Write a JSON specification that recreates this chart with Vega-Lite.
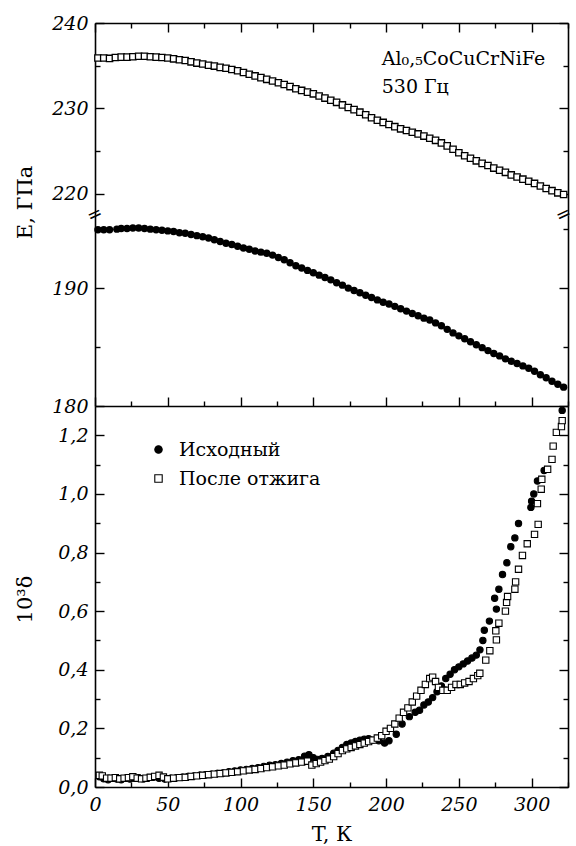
{
  "$schema": "https://vega.github.io/schema/vega-lite/v6.json",
  "padding": {"left": 14, "top": 14, "right": 4, "bottom": 4},
  "spacing": 0,
  "bounds": "flush",
  "config": {
    "view": {"stroke": null},
    "axis": {
      "grid": false,
      "domainColor": "black", "domainWidth": 1.6,
      "tickColor": "black", "tickWidth": 1.4,
      "labelFont": "DejaVu Serif", "labelFontStyle": "italic", "labelFontSize": 19, "labelColor": "black",
      "titleFont": "DejaVu Serif", "titleFontSize": 21, "titleFontWeight": "normal", "titleColor": "black",
      "labelFlush": false
    },
    "legend": {
      "labelFont": "DejaVu Serif", "labelFontSize": 19, "labelColor": "black",
      "symbolSize": 55, "labelOffset": 11, "rowPadding": 9, "padding": 0,
      "symbolStrokeColor": "black", "symbolStrokeWidth": 1.1
    },
    "text": {"font": "DejaVu Serif", "fontSize": 19, "color": "black"}
  },
  "datasets": {
    "Eann": [
      {"T":2,"E":235.9},{"T":6,"E":235.9},{"T":10,"E":235.85},{"T":14,"E":235.95},{"T":18,"E":236.0},{"T":22,"E":236.0},{"T":26,"E":236.05},{"T":30,"E":236.1},{"T":34,"E":236.1},{"T":38,"E":236.05},{"T":42,"E":236.0},{"T":46,"E":235.95},{"T":50,"E":235.9},{"T":54,"E":235.8},{"T":58,"E":235.7},{"T":62,"E":235.6},{"T":66,"E":235.45},{"T":70,"E":235.3},{"T":74,"E":235.2},{"T":78,"E":235.05},{"T":82,"E":234.95},{"T":86,"E":234.8},{"T":90,"E":234.7},{"T":94,"E":234.55},{"T":98,"E":234.4},{"T":102,"E":234.2},{"T":106,"E":234.0},{"T":110,"E":233.8},{"T":114,"E":233.6},{"T":118,"E":233.4},{"T":122,"E":233.2},{"T":126,"E":233.0},{"T":130,"E":232.8},{"T":134,"E":232.55},{"T":138,"E":232.3},{"T":142,"E":232.1},{"T":146,"E":231.9},{"T":150,"E":231.7},{"T":154,"E":231.45},{"T":158,"E":231.2},{"T":162,"E":230.95},{"T":166,"E":230.7},{"T":170,"E":230.4},{"T":174,"E":230.1},{"T":178,"E":229.85},{"T":182,"E":229.55},{"T":186,"E":229.25},{"T":190,"E":228.9},{"T":194,"E":228.6},{"T":198,"E":228.35},{"T":202,"E":228.1},{"T":206,"E":227.85},{"T":210,"E":227.6},{"T":214,"E":227.4},{"T":218,"E":227.2},{"T":222,"E":227.0},{"T":226,"E":226.75},{"T":230,"E":226.5},{"T":234,"E":226.25},{"T":238,"E":225.95},{"T":242,"E":225.6},{"T":246,"E":225.2},{"T":250,"E":224.8},{"T":254,"E":224.45},{"T":258,"E":224.15},{"T":262,"E":223.85},{"T":266,"E":223.55},{"T":270,"E":223.3},{"T":274,"E":223.0},{"T":278,"E":222.75},{"T":282,"E":222.5},{"T":286,"E":222.2},{"T":290,"E":221.95},{"T":294,"E":221.7},{"T":298,"E":221.45},{"T":302,"E":221.2},{"T":306,"E":220.9},{"T":310,"E":220.6},{"T":314,"E":220.35},{"T":318,"E":220.1},{"T":322,"E":219.9}
    ],
    "Eini": [
      {"T":2,"E":194.95},{"T":6,"E":194.95},{"T":10,"E":194.95},{"T":15,"E":195.0},{"T":18,"E":195.05},{"T":22,"E":195.05},{"T":26,"E":195.1},{"T":30,"E":195.1},{"T":34,"E":195.05},{"T":38,"E":195.0},{"T":42,"E":194.95},{"T":46,"E":194.9},{"T":50,"E":194.85},{"T":54,"E":194.8},{"T":58,"E":194.7},{"T":62,"E":194.65},{"T":66,"E":194.55},{"T":70,"E":194.45},{"T":74,"E":194.35},{"T":78,"E":194.25},{"T":82,"E":194.1},{"T":86,"E":193.95},{"T":90,"E":193.8},{"T":94,"E":193.7},{"T":98,"E":193.55},{"T":102,"E":193.4},{"T":106,"E":193.3},{"T":110,"E":193.15},{"T":114,"E":193.05},{"T":118,"E":192.95},{"T":122,"E":192.8},{"T":126,"E":192.6},{"T":130,"E":192.4},{"T":134,"E":192.15},{"T":138,"E":191.9},{"T":142,"E":191.7},{"T":146,"E":191.5},{"T":150,"E":191.3},{"T":154,"E":191.1},{"T":158,"E":190.9},{"T":162,"E":190.7},{"T":166,"E":190.45},{"T":170,"E":190.25},{"T":174,"E":190.0},{"T":178,"E":189.8},{"T":182,"E":189.6},{"T":186,"E":189.4},{"T":190,"E":189.2},{"T":194,"E":189.0},{"T":198,"E":188.8},{"T":202,"E":188.65},{"T":206,"E":188.45},{"T":210,"E":188.25},{"T":214,"E":188.05},{"T":218,"E":187.85},{"T":222,"E":187.65},{"T":226,"E":187.45},{"T":230,"E":187.3},{"T":234,"E":187.05},{"T":238,"E":186.8},{"T":242,"E":186.5},{"T":246,"E":186.2},{"T":250,"E":185.95},{"T":254,"E":185.7},{"T":258,"E":185.45},{"T":262,"E":185.2},{"T":266,"E":184.95},{"T":270,"E":184.7},{"T":274,"E":184.45},{"T":278,"E":184.25},{"T":282,"E":184.0},{"T":286,"E":183.8},{"T":290,"E":183.6},{"T":294,"E":183.4},{"T":298,"E":183.2},{"T":302,"E":182.95},{"T":306,"E":182.65},{"T":310,"E":182.4},{"T":314,"E":182.1},{"T":318,"E":181.85},{"T":322,"E":181.6}
    ],
    "delta": [
      {"T":3,"d":0.035,"s":"Исходный"},{"T":6,"d":0.028,"s":"Исходный"},{"T":9,"d":0.025,"s":"Исходный"},{"T":12,"d":0.03,"s":"Исходный"},{"T":15,"d":0.027,"s":"Исходный"},{"T":18,"d":0.025,"s":"Исходный"},{"T":21,"d":0.03,"s":"Исходный"},{"T":24,"d":0.027,"s":"Исходный"},{"T":27,"d":0.03,"s":"Исходный"},{"T":30,"d":0.032,"s":"Исходный"},{"T":33,"d":0.028,"s":"Исходный"},{"T":36,"d":0.03,"s":"Исходный"},{"T":40,"d":0.033,"s":"Исходный"},{"T":44,"d":0.03,"s":"Исходный"},{"T":48,"d":0.027,"s":"Исходный"},{"T":52,"d":0.03,"s":"Исходный"},{"T":56,"d":0.032,"s":"Исходный"},{"T":60,"d":0.033,"s":"Исходный"},{"T":64,"d":0.036,"s":"Исходный"},{"T":68,"d":0.038,"s":"Исходный"},{"T":72,"d":0.04,"s":"Исходный"},{"T":76,"d":0.042,"s":"Исходный"},{"T":80,"d":0.044,"s":"Исходный"},{"T":84,"d":0.046,"s":"Исходный"},{"T":88,"d":0.048,"s":"Исходный"},{"T":92,"d":0.052,"s":"Исходный"},{"T":96,"d":0.055,"s":"Исходный"},{"T":100,"d":0.058,"s":"Исходный"},{"T":104,"d":0.06,"s":"Исходный"},{"T":108,"d":0.063,"s":"Исходный"},{"T":112,"d":0.066,"s":"Исходный"},{"T":116,"d":0.07,"s":"Исходный"},{"T":120,"d":0.074,"s":"Исходный"},{"T":124,"d":0.076,"s":"Исходный"},{"T":128,"d":0.08,"s":"Исходный"},{"T":132,"d":0.085,"s":"Исходный"},{"T":136,"d":0.09,"s":"Исходный"},{"T":140,"d":0.093,"s":"Исходный"},{"T":144,"d":0.105,"s":"Исходный"},{"T":147,"d":0.11,"s":"Исходный"},{"T":150,"d":0.1,"s":"Исходный"},{"T":153,"d":0.094,"s":"Исходный"},{"T":156,"d":0.097,"s":"Исходный"},{"T":160,"d":0.104,"s":"Исходный"},{"T":164,"d":0.115,"s":"Исходный"},{"T":167,"d":0.125,"s":"Исходный"},{"T":170,"d":0.135,"s":"Исходный"},{"T":173,"d":0.145,"s":"Исходный"},{"T":176,"d":0.15,"s":"Исходный"},{"T":179,"d":0.155,"s":"Исходный"},{"T":182,"d":0.16,"s":"Исходный"},{"T":185,"d":0.163,"s":"Исходный"},{"T":188,"d":0.165,"s":"Исходный"},{"T":191,"d":0.16,"s":"Исходный"},{"T":195,"d":0.158,"s":"Исходный"},{"T":199,"d":0.15,"s":"Исходный"},{"T":202,"d":0.158,"s":"Исходный"},{"T":207,"d":0.18,"s":"Исходный"},{"T":211,"d":0.215,"s":"Исходный"},{"T":216,"d":0.24,"s":"Исходный"},{"T":220,"d":0.255,"s":"Исходный"},{"T":223,"d":0.262,"s":"Исходный"},{"T":226,"d":0.28,"s":"Исходный"},{"T":229,"d":0.29,"s":"Исходный"},{"T":232,"d":0.305,"s":"Исходный"},{"T":235,"d":0.325,"s":"Исходный"},{"T":238,"d":0.345,"s":"Исходный"},{"T":241,"d":0.37,"s":"Исходный"},{"T":244,"d":0.385,"s":"Исходный"},{"T":247,"d":0.4,"s":"Исходный"},{"T":250,"d":0.41,"s":"Исходный"},{"T":253,"d":0.42,"s":"Исходный"},{"T":256,"d":0.43,"s":"Исходный"},{"T":259,"d":0.44,"s":"Исходный"},{"T":262,"d":0.45,"s":"Исходный"},{"T":264.5,"d":0.468,"s":"Исходный"},{"T":266.5,"d":0.5,"s":"Исходный"},{"T":267.5,"d":0.535,"s":"Исходный"},{"T":271,"d":0.566,"s":"Исходный"},{"T":274.6,"d":0.644,"s":"Исходный"},{"T":275.8,"d":0.607,"s":"Исходный"},{"T":277.5,"d":0.675,"s":"Исходный"},{"T":280,"d":0.725,"s":"Исходный"},{"T":283,"d":0.765,"s":"Исходный"},{"T":285.7,"d":0.82,"s":"Исходный"},{"T":288.5,"d":0.85,"s":"Исходный"},{"T":291,"d":0.899,"s":"Исходный"},{"T":299.5,"d":0.954,"s":"Исходный"},{"T":300,"d":0.975,"s":"Исходный"},{"T":301.5,"d":1.0,"s":"Исходный"},{"T":304,"d":1.044,"s":"Исходный"},{"T":308.6,"d":1.08,"s":"Исходный"},{"T":321,"d":1.285,"s":"Исходный"},
      {"T":3,"d":0.04,"s":"После отжига"},{"T":5,"d":0.038,"s":"После отжига"},{"T":8,"d":0.03,"s":"После отжига"},{"T":11,"d":0.03,"s":"После отжига"},{"T":14,"d":0.032,"s":"После отжига"},{"T":17,"d":0.028,"s":"После отжига"},{"T":20,"d":0.03,"s":"После отжига"},{"T":23,"d":0.032,"s":"После отжига"},{"T":26,"d":0.035,"s":"После отжига"},{"T":29,"d":0.03,"s":"После отжига"},{"T":32,"d":0.028,"s":"После отжига"},{"T":35,"d":0.03,"s":"После отжига"},{"T":38,"d":0.033,"s":"После отжига"},{"T":41,"d":0.036,"s":"После отжига"},{"T":44,"d":0.04,"s":"После отжига"},{"T":47,"d":0.034,"s":"После отжига"},{"T":50,"d":0.028,"s":"После отжига"},{"T":54,"d":0.03,"s":"После отжига"},{"T":58,"d":0.032,"s":"После отжига"},{"T":62,"d":0.033,"s":"После отжига"},{"T":66,"d":0.036,"s":"После отжига"},{"T":70,"d":0.038,"s":"После отжига"},{"T":74,"d":0.04,"s":"После отжига"},{"T":78,"d":0.042,"s":"После отжига"},{"T":82,"d":0.044,"s":"После отжига"},{"T":86,"d":0.046,"s":"После отжига"},{"T":90,"d":0.048,"s":"После отжига"},{"T":94,"d":0.05,"s":"После отжига"},{"T":98,"d":0.052,"s":"После отжига"},{"T":102,"d":0.055,"s":"После отжига"},{"T":106,"d":0.058,"s":"После отжига"},{"T":110,"d":0.06,"s":"После отжига"},{"T":114,"d":0.063,"s":"После отжига"},{"T":118,"d":0.066,"s":"После отжига"},{"T":122,"d":0.069,"s":"После отжига"},{"T":126,"d":0.072,"s":"После отжига"},{"T":130,"d":0.075,"s":"После отжига"},{"T":134,"d":0.079,"s":"После отжига"},{"T":138,"d":0.082,"s":"После отжига"},{"T":142,"d":0.085,"s":"После отжига"},{"T":146,"d":0.088,"s":"После отжига"},{"T":149,"d":0.075,"s":"После отжига"},{"T":152,"d":0.08,"s":"После отжига"},{"T":155,"d":0.085,"s":"После отжига"},{"T":158,"d":0.09,"s":"После отжига"},{"T":161,"d":0.095,"s":"После отжига"},{"T":164,"d":0.104,"s":"После отжига"},{"T":167,"d":0.114,"s":"После отжига"},{"T":170,"d":0.124,"s":"После отжига"},{"T":173,"d":0.13,"s":"После отжига"},{"T":176,"d":0.135,"s":"После отжига"},{"T":179,"d":0.14,"s":"После отжига"},{"T":182,"d":0.145,"s":"После отжига"},{"T":185,"d":0.15,"s":"После отжига"},{"T":188,"d":0.155,"s":"После отжига"},{"T":191,"d":0.16,"s":"После отжига"},{"T":194,"d":0.167,"s":"После отжига"},{"T":197,"d":0.175,"s":"После отжига"},{"T":200,"d":0.19,"s":"После отжига"},{"T":203,"d":0.2,"s":"После отжига"},{"T":206,"d":0.215,"s":"После отжига"},{"T":209,"d":0.235,"s":"После отжига"},{"T":212,"d":0.255,"s":"После отжига"},{"T":215,"d":0.27,"s":"После отжига"},{"T":218,"d":0.29,"s":"После отжига"},{"T":221,"d":0.31,"s":"После отжига"},{"T":224,"d":0.33,"s":"После отжига"},{"T":227,"d":0.35,"s":"После отжига"},{"T":230,"d":0.37,"s":"После отжига"},{"T":232,"d":0.375,"s":"После отжига"},{"T":234,"d":0.36,"s":"После отжига"},{"T":236,"d":0.34,"s":"После отжига"},{"T":239,"d":0.33,"s":"После отжига"},{"T":242,"d":0.33,"s":"После отжига"},{"T":245,"d":0.34,"s":"После отжига"},{"T":248,"d":0.35,"s":"После отжига"},{"T":251,"d":0.35,"s":"После отжига"},{"T":254,"d":0.355,"s":"После отжига"},{"T":257,"d":0.36,"s":"После отжига"},{"T":260,"d":0.37,"s":"После отжига"},{"T":263,"d":0.38,"s":"После отжига"},{"T":264.4,"d":0.388,"s":"После отжига"},{"T":268.5,"d":0.433,"s":"После отжига"},{"T":271.3,"d":0.465,"s":"После отжига"},{"T":275.4,"d":0.533,"s":"После отжига"},{"T":275.8,"d":0.502,"s":"После отжига"},{"T":277.5,"d":0.559,"s":"После отжига"},{"T":282,"d":0.6,"s":"После отжига"},{"T":282.8,"d":0.63,"s":"После отжига"},{"T":283.5,"d":0.65,"s":"После отжига"},{"T":288.5,"d":0.675,"s":"После отжига"},{"T":289,"d":0.7,"s":"После отжига"},{"T":291,"d":0.743,"s":"После отжига"},{"T":293.7,"d":0.79,"s":"После отжига"},{"T":297,"d":0.83,"s":"После отжига"},{"T":302,"d":0.862,"s":"После отжига"},{"T":304.5,"d":0.896,"s":"После отжига"},{"T":304,"d":0.967,"s":"После отжига"},{"T":306.6,"d":1.016,"s":"После отжига"},{"T":307,"d":1.05,"s":"После отжига"},{"T":311,"d":1.084,"s":"После отжига"},{"T":314,"d":1.118,"s":"После отжига"},{"T":314.8,"d":1.163,"s":"После отжига"},{"T":317,"d":1.21,"s":"После отжига"},{"T":320.5,"d":1.23,"s":"После отжига"},{"T":321,"d":1.25,"s":"После отжига"}
    ]
  },
  "vconcat": [
    {
      "width": 473, "height": 192,
      "data": {"name": "Eann"},
      "layer": [
        {
          "mark": {"type": "point", "shape": "square", "filled": true, "fill": "white", "stroke": "black", "strokeWidth": 1.3, "size": 40, "opacity": 1},
          "encoding": {
            "x": {"field": "T", "type": "quantitative", "scale": {"domain": [0, 325], "nice": false, "zero": false},
                  "axis": {"orient": "top", "values": [0, 50, 100, 150, 200, 250, 300], "labels": false, "tickSize": -9, "title": null}},
            "y": {"field": "E", "type": "quantitative", "scale": {"domain": [217.5, 240], "nice": false, "zero": false},
                  "axis": {"orient": "left", "values": [220, 230, 240], "tickSize": -9, "labelPadding": 16, "title": null}}
          }
        },
        {
          "mark": {"type": "point", "opacity": 0},
          "encoding": {
            "x": {"field": "T", "type": "quantitative", "axis": {"orient": "top", "values": [25, 75, 125, 175, 225, 275, 325], "labels": false, "domain": false, "tickSize": -5, "title": null}},
            "y": {"field": "E", "type": "quantitative", "axis": {"orient": "left", "values": [225, 235], "labels": false, "domain": false, "tickSize": -5, "title": null}}
          }
        },
        {
          "mark": {"type": "point", "opacity": 0},
          "encoding": {
            "x": {"field": "T", "type": "quantitative", "axis": null},
            "y": {"field": "E", "type": "quantitative", "axis": {"orient": "right", "values": [220, 230, 240], "labels": false, "tickSize": -9, "title": null}}
          }
        },
        {
          "mark": {"type": "point", "opacity": 0},
          "encoding": {
            "x": {"field": "T", "type": "quantitative", "axis": null},
            "y": {"field": "E", "type": "quantitative", "axis": {"orient": "right", "values": [225, 235], "labels": false, "domain": false, "tickSize": -5, "title": null}}
          }
        },
        {
          "data": {"values": [{}]},
          "mark": {"type": "text", "text": "Al₀,₅CoCuCrNiFe", "align": "left", "baseline": "middle"},
          "encoding": {
            "x": {"datum": 197, "type": "quantitative", "axis": null},
            "y": {"datum": 235.8, "type": "quantitative", "axis": null}
          }
        },
        {
          "data": {"values": [{}]},
          "mark": {"type": "text", "text": "530 Гц", "align": "left", "baseline": "middle"},
          "encoding": {
            "x": {"datum": 197, "type": "quantitative", "axis": null},
            "y": {"datum": 232.5, "type": "quantitative", "axis": null}
          }
        }
      ],
      "resolve": {"axis": {"x": "independent", "y": "independent"}}
    },
    {
      "width": 473, "height": 191,
      "data": {"name": "Eini"},
      "layer": [
        {
          "mark": {"type": "circle", "size": 55, "color": "black", "opacity": 1},
          "encoding": {
            "x": {"field": "T", "type": "quantitative", "scale": {"domain": [0, 325], "nice": false, "zero": false},
                  "axis": {"orient": "bottom", "values": [0, 50, 100, 150, 200, 250, 300], "labels": false, "tickSize": -9, "title": null}},
            "y": {"field": "E", "type": "quantitative", "scale": {"domain": [180, 196.2], "nice": false, "zero": false},
                  "axis": {"orient": "left", "values": [180, 190], "tickSize": -9, "labelPadding": 16, "title": "E, ГПа", "titleX": -70, "titleY": -13, "titleAngle": -90, "titleAlign": "center", "titleBaseline": "middle"}}
          }
        },
        {
          "mark": {"type": "point", "opacity": 0},
          "encoding": {
            "x": {"field": "T", "type": "quantitative", "axis": {"orient": "bottom", "values": [25, 75, 125, 175, 225, 275, 325], "labels": false, "domain": false, "tickSize": -5, "title": null}},
            "y": {"field": "E", "type": "quantitative", "axis": {"orient": "left", "values": [185, 195], "labels": false, "domain": false, "tickSize": -5, "title": null}}
          }
        },
        {
          "mark": {"type": "point", "opacity": 0},
          "encoding": {
            "x": {"field": "T", "type": "quantitative", "axis": null},
            "y": {"field": "E", "type": "quantitative", "axis": {"orient": "right", "values": [180, 190], "labels": false, "tickSize": -9, "title": null}}
          }
        },
        {
          "mark": {"type": "point", "opacity": 0},
          "encoding": {
            "x": {"field": "T", "type": "quantitative", "axis": null},
            "y": {"field": "E", "type": "quantitative", "axis": {"orient": "right", "values": [185, 195], "labels": false, "domain": false, "tickSize": -5, "title": null}}
          }
        },
        {
          "data": {"values": [{}]},
          "mark": {"type": "text", "text": "=", "font": "DejaVu Sans", "fontSize": 18, "angle": -25, "align": "center", "baseline": "middle"},
          "encoding": {
            "x": {"datum": 0, "type": "quantitative", "axis": null},
            "y": {"datum": 196.2, "type": "quantitative", "axis": null}
          }
        },
        {
          "data": {"values": [{}]},
          "mark": {"type": "text", "text": "=", "font": "DejaVu Sans", "fontSize": 18, "angle": -25, "align": "center", "baseline": "middle"},
          "encoding": {
            "x": {"datum": 322, "type": "quantitative", "axis": null},
            "y": {"datum": 196.2, "type": "quantitative", "axis": null}
          }
        }
      ],
      "resolve": {"axis": {"x": "independent", "y": "independent"}}
    },
    {
      "width": 473, "height": 381,
      "data": {"name": "delta"},
      "layer": [
        {
          "mark": {"type": "point", "filled": true, "size": 40, "stroke": "black", "strokeWidth": 1.1, "opacity": 1},
          "encoding": {
            "x": {"field": "T", "type": "quantitative", "scale": {"domain": [0, 325], "nice": false, "zero": false},
                  "axis": {"orient": "bottom", "values": [0, 50, 100, 150, 200, 250, 300], "tickSize": -9, "labelPadding": 17, "title": "T, К", "titleY": 47, "titleBaseline": "middle"}},
            "y": {"field": "d", "type": "quantitative", "scale": {"domain": [0, 1.3], "nice": false, "zero": false},
                  "axis": {"orient": "left", "values": [0, 0.2, 0.4, 0.6, 0.8, 1.0, 1.2], "labelExpr": "replace(format(datum.value, '.1f'), '.', ',')", "tickSize": -9, "labelPadding": 16, "title": "10³δ", "titleX": -70, "titleY": 193, "titleAngle": -90, "titleAlign": "center", "titleBaseline": "middle"}},
            "shape": {"field": "s", "type": "nominal", "scale": {"domain": ["Исходный", "После отжига"], "range": ["circle", "square"]},
                      "legend": {"orient": "none", "legendX": 54, "legendY": 34, "title": null, "symbolStrokeColor": "black"}},
            "fill": {"field": "s", "type": "nominal", "scale": {"domain": ["Исходный", "После отжига"], "range": ["black", "white"]},
                     "legend": {"orient": "none", "legendX": 54, "legendY": 34, "title": null, "symbolStrokeColor": "black"}},
            "stroke": {"field": "s", "type": "nominal", "scale": {"domain": ["Исходный", "После отжига"], "range": ["black", "black"]},
                     "legend": {"orient": "none", "legendX": 54, "legendY": 34, "title": null, "symbolStrokeColor": "black"}}
          }
        },
        {
          "mark": {"type": "point", "opacity": 0},
          "encoding": {
            "x": {"field": "T", "type": "quantitative", "axis": {"orient": "bottom", "values": [25, 75, 125, 175, 225, 275, 325], "labels": false, "domain": false, "tickSize": -5, "title": null}},
            "y": {"field": "d", "type": "quantitative", "axis": {"orient": "left", "values": [0.1, 0.3, 0.5, 0.7, 0.9, 1.1], "labels": false, "domain": false, "tickSize": -5, "title": null}}
          }
        },
        {
          "mark": {"type": "point", "opacity": 0},
          "encoding": {
            "x": {"field": "T", "type": "quantitative", "axis": null},
            "y": {"field": "d", "type": "quantitative", "axis": {"orient": "right", "values": [0, 0.2, 0.4, 0.6, 0.8, 1.0, 1.2], "labels": false, "tickSize": -9, "title": null}}
          }
        },
        {
          "mark": {"type": "point", "opacity": 0},
          "encoding": {
            "x": {"field": "T", "type": "quantitative", "axis": null},
            "y": {"field": "d", "type": "quantitative", "axis": {"orient": "right", "values": [0.1, 0.3, 0.5, 0.7, 0.9, 1.1], "labels": false, "domain": false, "tickSize": -5, "title": null}}
          }
        }
      ],
      "resolve": {"axis": {"x": "independent", "y": "independent"}}
    }
  ],
  "resolve": {"legend": {"shape": "independent", "fill": "independent", "stroke": "independent"}}
}
